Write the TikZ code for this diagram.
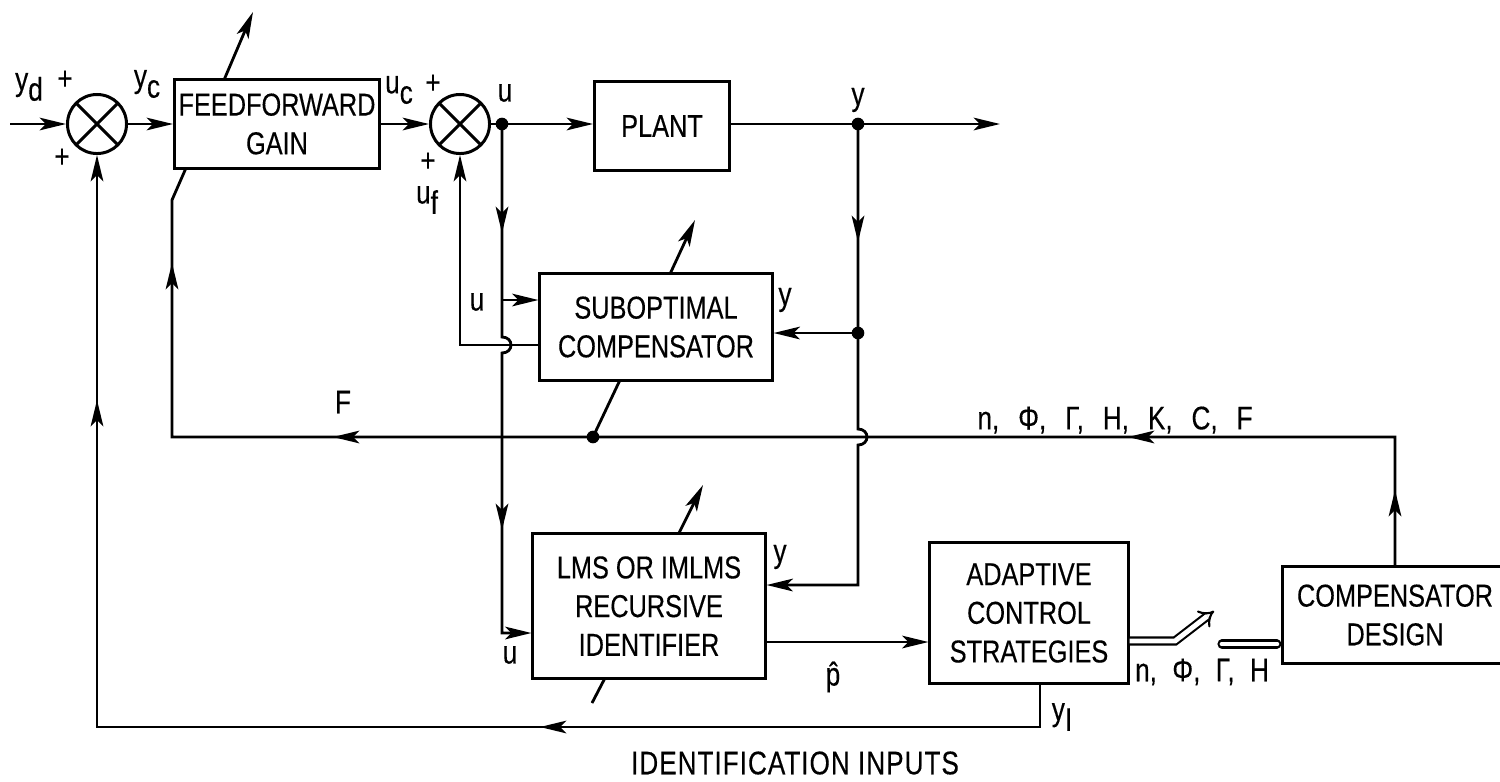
\documentclass[tikz,border=0pt]{standalone}
\usepackage{fontspec}
\setmainfont{Liberation Sans}[FakeStretch=0.8,FakeBold=0.3]
\usetikzlibrary{arrows.meta}
\newcommand{\sublbl}[2]{#1\raisebox{-0.6ex}{#2}}

\begin{document}
\begin{tikzpicture}[x=0.01cm,y=-0.01cm,block/.style={draw,line width=0.85pt,fill=white,inner sep=0pt,align=center,font=\fontsize{9}{11}\selectfont},junction/.style={circle,draw,line width=0.85pt,minimum size=0.59cm,inner sep=0pt,path picture={\draw[line width=0.85pt] (path picture bounding box.north west) -- (path picture bounding box.south east) (path picture bounding box.north east) -- (path picture bounding box.south west);}},tap/.style={circle,fill,inner sep=0pt,minimum size=3.6pt},signal/.style={line width=0.8pt},flow/.style={line width=0.8pt,-{Stealth[length=7.5pt,width=3.6pt,inset=1.8pt]}},param/.style={line width=0.6pt,double,double distance=1.4pt},tag/.style={inner sep=0pt,font=\fontsize{9.3}{11}\selectfont}]
\useasboundingbox (0,0) rectangle (1500,781);
\coordinate (IN) at (10,124);
\coordinate (U) at (502,124);
\coordinate (Y) at (858,124);
\coordinate (OUT) at (1000,124);
\coordinate (Ua) at (502,233);
\coordinate (Us) at (502,300);
\coordinate (Ub) at (502,530);
\coordinate (Ui) at (502,633);
\coordinate (Ya) at (858,242);
\coordinate (Ys) at (858,333);
\coordinate (Yb) at (858,585);
\coordinate (Fa) at (1395,490);
\coordinate (Fc) at (1395,437);
\coordinate (Fb) at (1128,437);
\coordinate (Fd) at (593,437);
\coordinate (Fe) at (333,437);
\coordinate (Fg) at (172,437);
\coordinate (Fh) at (172,263);
\coordinate (Fi) at (172,200);
\coordinate (Fj) at (186,168);
\coordinate (Ga) at (224,80);
\coordinate (Gt) at (253,12);
\coordinate (Sa) at (620,380);
\coordinate (Sb) at (670,274);
\coordinate (St) at (695,220);
\coordinate (La) at (592,703);
\coordinate (Lb) at (605,678);
\coordinate (Lc) at (679,533);
\coordinate (Lt) at (703,485);
\coordinate (Ia) at (1040,727);
\coordinate (Ib) at (540,727);
\coordinate (Ic) at (97,727);
\coordinate (Id) at (97,400);
\coordinate (Pa) at (1175,641);
\coordinate (Pt) at (1214,611);
\coordinate (Pb) at (1222,644);
\node[junction] (S1) at (97,124) {};
\node[block,minimum width=2.05cm,minimum height=0.88cm] (FG) at (277,124) {FEEDFORWARD\\GAIN};
\node[junction] (S2) at (460,124) {};
\node[block,minimum width=1.35cm,minimum height=0.88cm] (PL) at (662,126) {PLANT};
\node[block,minimum width=2.32cm,minimum height=1.06cm] (SC) at (656,327) {SUBOPTIMAL\\COMPENSATOR};
\node[block,minimum width=2.32cm,minimum height=1.45cm] (ID) at (649,606) {LMS OR IMLMS\\RECURSIVE\\IDENTIFIER};
\node[block,minimum width=1.98cm,minimum height=1.40cm] (AC) at (1029,613) {ADAPTIVE\\CONTROL\\STRATEGIES};
\node[block,minimum width=2.24cm,minimum height=0.96cm] (CD) at (1395,615) {COMPENSATOR\\DESIGN};
\draw[flow] (IN) -- (S1);
\draw[flow] (S1) -- (FG);
\draw[flow] (FG) -- (S2);
\draw[signal] (S2) -- (U);
\draw[flow] (U) -- (PL.west |- U);
\draw[signal] (PL.east |- Y) -- (Y);
\draw[flow] (Y) -- (OUT);
\draw[flow] (U) -- (502,337) .. controls (514,337) and (514,353) .. (502,353) -- (Ui) -- (ID.west |- Ui);
\draw[flow] ([yshift=10pt]Ua) -- (Ua);
\draw[flow] ([yshift=10pt]Ub) -- (Ub);
\draw[flow] (Us) -- (SC.west |- Us);
\draw[flow] (SC.west |- 0,345) -| (S2.south);
\draw[flow] (Y) -- (Ys) -- (858,429) .. controls (870,429) and (870,445) .. (858,445) -- (Yb) -- (ID.east |- Yb);
\draw[flow] ([yshift=10pt]Ya) -- (Ya);
\draw[flow] (Ys) -- (SC.east |- Ys);
\draw[signal] (CD.north) -- (Fc) -- (Fg) -- (Fi) -- (Fj);
\draw[flow] ([yshift=-10pt]Fa) -- (Fa);
\draw[flow] ([xshift=10pt]Fb) -- (Fb);
\draw[flow] ([xshift=10pt]Fe) -- (Fe);
\draw[flow] ([yshift=-10pt]Fh) -- (Fh);
\draw[flow] (Ga) -- (Gt);
\draw[signal] (Fd) -- (Sa);
\draw[flow] (Sb) -- (St);
\draw[signal] (La) -- (Lb);
\draw[flow] (Lc) -- (Lt);
\draw[flow] (ID.east |- 0,642) -- (AC.west |- 0,642);
\draw[flow] (AC.south -| Ia) -- (Ia) -- (Ic) -- (S1);
\draw[flow] ([xshift=10pt]Ib) -- (Ib);
\draw[flow] ([yshift=-10pt]Id) -- (Id);
\draw[param,-{Implies[length=5pt,width=9pt]}] (AC.east |- Pa) -- (Pa) -- (Pt);
\draw[param,line cap=round,shorten >=1.3pt] (Pb) -- (CD.west |- Pb);
\node[tap] (tU) at (U) {};
\node[tap] (tY) at (Y) {};
\node[tap] (tYs) at (Ys) {};
\node[tap] (tFd) at (Fd) {};
\node[tag] (lyd) at (29,87) {\sublbl{y}{d}};
\node[tag] (lp1) at (65,80) {+};
\node[tag] (lp2) at (62,158) {+};
\node[tag] (lyc) at (147,84) {\sublbl{y}{c}};
\node[tag] (luc) at (399,90) {\sublbl{u}{c}};
\node[tag] (lp3) at (433,84) {+};
\node[tag] (lp4) at (428,162) {+};
\node[tag] (luf) at (427,200) {\sublbl{u}{f}};
\node[tag] (lu1) at (505,93) {u};
\node[tag] (ly1) at (858,100) {y};
\node[tag] (lu2) at (477,302) {u};
\node[tag] (ly2) at (785,300) {y};
\node[tag] (lF) at (343,402) {F};
\node[tag] (lpar) at (1115,420) {n,\hspace{3.3pt} Φ,\hspace{3.3pt} Γ,\hspace{3.3pt} H,\hspace{3.3pt} K,\hspace{3.3pt} C,\hspace{3.3pt} F};
\node[tag] (lu3) at (510,655) {u};
\node[tag] (ly3) at (780,557) {y};
\node[tag] (lph) at (833,677) {\^{p}};
\node[tag] (lyI) at (1062,717) {\sublbl{y}{I}};
\node[tag] (lpar2) at (1202,672) {n,\hspace{2.3pt} Φ,\hspace{2.3pt} Γ,\hspace{2.3pt} H};
\node[tag] (lid) at (795,763) {\addfontfeatures{LetterSpace=3}IDENTIFICATION INPUTS};
\end{tikzpicture}
\end{document}
